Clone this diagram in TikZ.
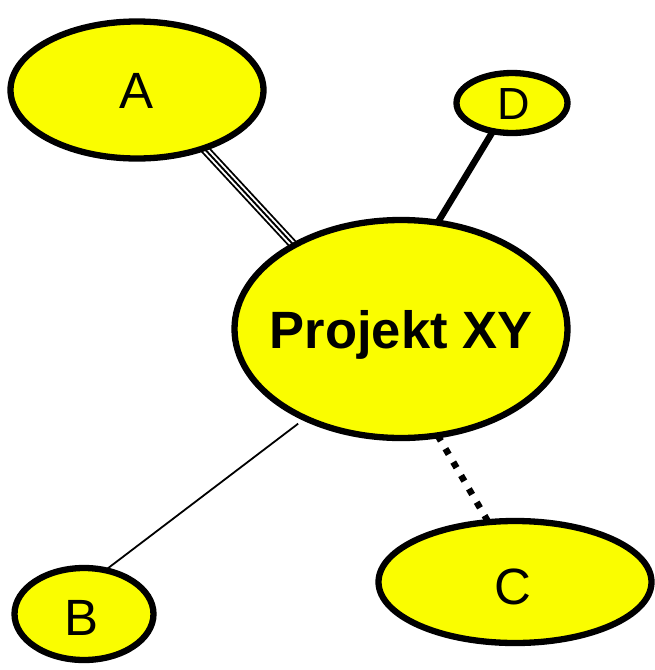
\documentclass[tikz,border=0pt]{standalone}
\usepackage{fontspec}
\setmainfont{Liberation Sans}
\usetikzlibrary{shapes.geometric}
\definecolor{bubble}{RGB}{250,253,0}
\begin{document}
\begin{tikzpicture}[x=1pt,y=-1pt,
  bub/.style={ellipse,draw=black,fill=bubble,line width=6.3pt,inner sep=0pt,outer sep=0pt},
  lbl/.style={inner sep=0pt,text depth=0pt,text height=36.5pt,font=\fontsize{51}{51}\selectfont},
  thickline/.style={line width=6.5pt},
  dotline/.style={line width=6.5pt,dash pattern=on 6.5pt off 9pt},
  thinline/.style={line width=1.8pt}]
\useasboundingbox (0,0) rectangle (655,670);
\pgfdeclarelayer{back}\pgfsetlayers{back,main}
% bubbles
\node[bub,minimum width=253pt,minimum height=137pt] (A) at (137,90) {};
\node[bub,minimum width=111pt,minimum height=60pt] (D) at (512,103) {};
\node[bub,minimum width=333pt,minimum height=218pt] (P) at (401,329) {};
\node[bub,minimum width=139pt,minimum height=92pt] (B) at (84,614) {};
\node[bub,minimum width=273pt,minimum height=122pt] (C) at (515,582) {};
% labels
\node[lbl] (Atext) at (137,90) {A};
\node[lbl,text height=32.2pt,font=\fontsize{45}{45}\selectfont] (Dtext) at (514,103) {D};
\node[lbl,text height=37.5pt,font=\fontsize{52.5}{52.5}\selectfont\bfseries] (Ptext) at (401,330) {Projekt XY};
\node[lbl] (Btext) at (82,617) {B};
\node[lbl] (Ctext) at (513,586) {C};
% connectors
\begin{pgfonlayer}{back}
  \draw[line width=9.5pt] (A.-41.5) -- (P.142);
  \draw[line width=5.8pt,white] (A.-41.5) -- (P.142);
  \draw[line width=1.9pt] (A.-41.5) -- (P.142);
  \draw[thickline] (D.-124) -- (P.71);
  \draw[thinline,shorten <=9pt] (P.-137) -- (B.64);
  \draw[dotline] (P.-71.6) -- (C.114);
\end{pgfonlayer}
\end{tikzpicture}
\end{document}
